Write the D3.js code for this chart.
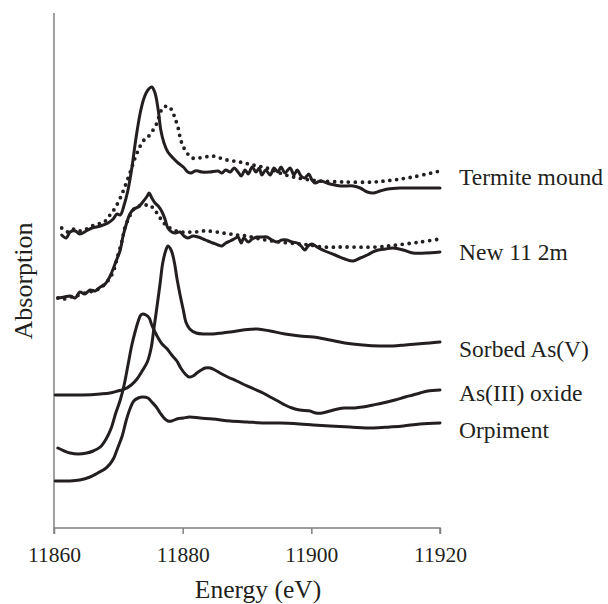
<!DOCTYPE html>
<html>
<head>
<meta charset="utf-8">
<script src="https://cdn.jsdelivr.net/npm/d3@7"></script>
<style>
  html, body { margin: 0; padding: 0; background: #fff; }
  svg { display: block; }
  text { font-family: "Liberation Serif", "DejaVu Serif", serif; fill: #231f20; }
</style>
</head>
<body>
<svg id="chart" width="608" height="604"></svg>
<script>
// Energy offsets are eV above 11860; values are normalized absorption (offset stacked)
const xTicks = [11860, 11880, 11900, 11920];
const xTitle = "Energy (eV)";
const yTitle = "Absorption";
const E0 = 11860;

const termiteSolid = [[1.2,2.93],[1.9,2.90],[2.5,2.96],[3.3,2.97],[4.0,2.94],[5.0,2.97],[5.9,3.00],[7.2,3.02],[8.4,3.05],[9.2,3.09],[9.8,3.14],[10.3,3.13],[10.9,3.23],[11.5,3.38],[12.1,3.60],[12.7,3.88],[13.4,4.15],[14.0,4.30],[14.6,4.38],[15.2,4.41],[15.7,4.35],[16.2,4.18],[16.6,3.98],[17.1,3.85],[17.7,3.76],[18.5,3.70],[19.3,3.65],[20.1,3.61],[20.8,3.56],[21.3,3.55],[21.9,3.57],[22.4,3.57],[23.0,3.56],[24.2,3.56],[25.5,3.57],[26.1,3.55],[26.7,3.58],[27.4,3.56],[28.0,3.60],[28.6,3.56],[29.1,3.52],[29.7,3.58],[30.2,3.54],[30.8,3.61],[31.4,3.56],[31.9,3.60],[32.3,3.53],[32.9,3.58],[33.6,3.53],[34.2,3.60],[34.8,3.56],[35.3,3.61],[35.9,3.55],[36.7,3.60],[37.3,3.53],[37.8,3.58],[38.4,3.52],[39.0,3.50],[39.6,3.54],[40.1,3.48],[40.6,3.45],[41.4,3.47],[42.9,3.44],[44.5,3.42],[46.5,3.42],[47.6,3.40],[48.7,3.36],[49.6,3.35],[50.7,3.37],[51.9,3.39],[53.8,3.40],[56.9,3.40],[60.0,3.40]];
const termiteDotted = [[1.2,3.00],[2.2,2.96],[3.1,2.99],[4.0,2.97],[5.0,2.99],[5.9,3.02],[6.8,3.04],[7.8,3.06],[8.7,3.13],[9.5,3.20],[10.3,3.30],[11.0,3.41],[11.8,3.55],[12.6,3.70],[13.4,3.82],[14.0,3.88],[14.6,3.91],[15.4,3.98],[16.0,4.05],[16.5,4.15],[16.9,4.20],[17.7,4.22],[18.3,4.18],[18.8,4.10],[19.3,4.00],[19.7,3.88],[20.2,3.80],[20.8,3.74],[21.5,3.70],[22.4,3.70],[23.5,3.71],[24.6,3.72],[25.8,3.70],[26.9,3.68],[28.9,3.66],[30.9,3.63],[33.1,3.60],[35.1,3.55],[37.2,3.51],[39.8,3.48],[41.4,3.47],[44.9,3.46],[49.6,3.46],[52.7,3.48],[55.8,3.51],[60.0,3.57]];
const newSolid = [[0.6,2.30],[1.6,2.31],[2.5,2.32],[3.3,2.30],[4.0,2.36],[4.8,2.34],[5.6,2.38],[6.4,2.37],[7.2,2.41],[7.8,2.43],[8.4,2.48],[9.0,2.56],[9.6,2.66],[10.3,2.78],[10.7,2.91],[11.2,3.03],[11.8,3.14],[12.4,3.19],[13.1,3.21],[13.8,3.26],[14.5,3.32],[14.8,3.35],[15.2,3.30],[15.7,3.25],[16.2,3.22],[16.8,3.16],[17.3,3.08],[17.7,3.00],[18.3,2.96],[18.9,2.95],[19.6,2.96],[20.2,2.92],[20.8,2.90],[21.6,2.92],[22.4,2.91],[23.2,2.89],[23.9,2.87],[24.7,2.85],[25.5,2.83],[26.1,2.82],[26.7,2.85],[27.4,2.87],[28.0,2.89],[28.6,2.91],[29.1,2.85],[29.5,2.90],[30.2,2.86],[30.8,2.89],[31.6,2.91],[32.3,2.91],[33.1,2.91],[33.9,2.88],[34.7,2.86],[35.4,2.88],[36.2,2.88],[37.0,2.86],[37.8,2.85],[38.4,2.82],[39.0,2.78],[39.5,2.82],[40.1,2.84],[40.9,2.81],[42.1,2.77],[43.7,2.73],[45.2,2.69],[46.5,2.67],[47.6,2.70],[48.7,2.73],[49.9,2.77],[51.5,2.79],[52.7,2.80],[54.3,2.78],[55.8,2.75],[57.7,2.75],[60.0,2.76]];
const newDotted = [[0.6,2.30],[1.6,2.29],[2.5,2.31],[3.4,2.32],[4.4,2.34],[5.3,2.36],[6.2,2.37],[7.2,2.40],[7.9,2.44],[8.7,2.50],[9.3,2.58],[9.9,2.72],[10.6,2.88],[11.0,3.00],[11.7,3.11],[12.3,3.18],[12.9,3.21],[13.7,3.23],[14.3,3.23],[14.9,3.23],[15.5,3.19],[16.0,3.15],[16.5,3.10],[16.9,3.06],[17.6,3.02],[18.3,2.99],[19.6,2.96],[20.7,2.96],[21.9,2.96],[23.0,2.97],[23.9,2.97],[25.3,2.96],[26.3,2.95],[27.4,2.94],[28.4,2.93],[30.0,2.92],[32.0,2.89],[35.1,2.86],[38.2,2.84],[39.8,2.83],[41.8,2.81],[44.9,2.81],[50.2,2.81],[53.3,2.83],[56.9,2.86],[60.0,2.89]];
const sorbedAsV = [[0.2,1.33],[4.5,1.33],[7.2,1.34],[8.7,1.35],[9.9,1.37],[11.0,1.39],[12.0,1.43],[12.9,1.49],[13.7,1.57],[14.5,1.66],[15.1,1.80],[15.5,1.98],[16.0,2.21],[16.5,2.45],[16.9,2.65],[17.4,2.78],[17.7,2.82],[18.2,2.78],[18.7,2.66],[19.1,2.50],[19.6,2.33],[20.1,2.18],[20.5,2.06],[21.1,1.99],[22.1,1.95],[23.5,1.94],[24.7,1.94],[26.1,1.95],[27.4,1.96],[29.4,1.98],[31.6,1.99],[33.6,1.97],[35.9,1.94],[38.2,1.92],[40.3,1.91],[42.9,1.88],[45.2,1.85],[48.0,1.83],[50.7,1.82],[52.7,1.82],[54.6,1.83],[56.4,1.84],[58.4,1.85],[60.0,1.86]];
const asIIIOxide = [[0.6,0.80],[1.6,0.77],[2.5,0.75],[3.7,0.74],[5.1,0.75],[6.1,0.77],[7.2,0.81],[8.1,0.89],[8.9,1.00],[9.6,1.15],[10.3,1.28],[10.9,1.43],[11.5,1.63],[12.1,1.83],[12.6,1.96],[13.1,2.07],[13.5,2.13],[13.8,2.14],[14.3,2.13],[14.8,2.10],[15.2,2.03],[15.7,1.96],[16.2,1.90],[16.8,1.84],[17.6,1.79],[18.3,1.73],[19.1,1.67],[19.7,1.60],[20.4,1.54],[21.0,1.51],[21.6,1.52],[22.2,1.55],[22.9,1.58],[23.5,1.60],[24.3,1.60],[25.0,1.58],[25.8,1.55],[27.0,1.51],[28.4,1.47],[29.7,1.43],[31.1,1.39],[32.5,1.35],[33.6,1.31],[34.8,1.27],[35.9,1.23],[37.0,1.20],[38.2,1.18],[39.8,1.17],[40.7,1.15],[41.7,1.15],[42.9,1.17],[44.1,1.19],[45.2,1.20],[46.8,1.20],[48.0,1.21],[49.6,1.23],[51.1,1.25],[53.0,1.28],[54.6,1.31],[55.8,1.33],[56.9,1.35],[58.1,1.37],[60.0,1.38]];
const orpiment = [[0.2,0.47],[2.5,0.47],[4.0,0.48],[5.6,0.51],[6.8,0.55],[7.9,0.59],[8.7,0.64],[9.3,0.70],[9.9,0.80],[10.6,0.92],[11.2,1.07],[11.8,1.19],[12.4,1.27],[13.1,1.30],[13.8,1.31],[14.6,1.30],[15.2,1.26],[15.9,1.21],[16.5,1.15],[17.1,1.10],[17.7,1.07],[18.3,1.07],[19.1,1.09],[20.1,1.10],[21.1,1.11],[22.7,1.10],[24.7,1.09],[27.4,1.07],[30.0,1.06],[32.8,1.05],[35.1,1.05],[38.2,1.04],[40.3,1.03],[42.9,1.02],[46.0,1.01],[49.6,1.00],[52.2,1.01],[54.3,1.02],[56.9,1.04],[60.0,1.05]];

const seriesNames = ["Termite mound", "New 11 2m", "Sorbed As(V)", "As(III) oxide", "Orpiment"];
const labelValues = [3.43, 2.68, 1.71, 1.27, 0.90];  // label baseline positions in absorption units

const svg = d3.select("#chart");
const x = d3.scaleLinear().domain([11860, 11920]).range([54, 440]);
const y = d3.scaleLinear().domain([0, 5.15]).range([528, 13]);

const line = d3.line()
  .x(d => x(E0 + d[0]))
  .y(d => y(d[1]))
  .curve(d3.curveCatmullRom.alpha(0.5));

// axes
const xAxis = d3.axisBottom(x).tickValues(xTicks).tickSize(6).tickFormat(d3.format("d"));
const gx = svg.append("g").attr("transform", `translate(0,${y(0)})`).call(xAxis);
gx.select(".domain").attr("stroke", "#808080").attr("stroke-width", 1.5).attr("d", `M54,6V0H440V6`);
gx.selectAll(".tick line").attr("stroke", "#808080").attr("stroke-width", 1.5);
gx.selectAll(".tick text").attr("y", 34).attr("dy", 0)
  .style("font-family", '"Liberation Serif", serif').style("font-size", "21.5px").attr("fill", "#231f20");

svg.append("line").attr("x1", 54).attr("x2", 54).attr("y1", y(5.15)).attr("y2", y(0))
  .attr("stroke", "#808080").attr("stroke-width", 1.5);

// curves
const solidSets = [termiteSolid, newSolid, sorbedAsV, asIIIOxide, orpiment];
const dottedSets = [termiteDotted, newDotted];

svg.append("g").selectAll("path.dot").data(dottedSets).join("path")
  .attr("d", line).attr("fill", "none").attr("stroke", "#231f20")
  .attr("stroke-width", 3.8).attr("stroke-linecap", "round").attr("stroke-dasharray", "0 6.9");

svg.append("g").selectAll("path.sol").data(solidSets).join("path")
  .attr("d", line).attr("fill", "none").attr("stroke", "#231f20")
  .attr("stroke-width", 3).attr("stroke-linejoin", "round").attr("stroke-linecap", "round");

// series labels
svg.append("g").selectAll("text").data(seriesNames).join("text")
  .attr("x", 459).attr("y", (d, i) => y(labelValues[i]))
  .style("font-size", "23.5px").text(d => d);

// axis titles
svg.append("text").attr("x", 258).attr("y", 598).attr("text-anchor", "middle")
  .style("font-size", "25.5px").text(xTitle);
svg.append("text").attr("transform", "translate(32,281) rotate(-90)").attr("text-anchor", "middle")
  .style("font-size", "26px").text(yTitle);
</script>
</body>
</html>
